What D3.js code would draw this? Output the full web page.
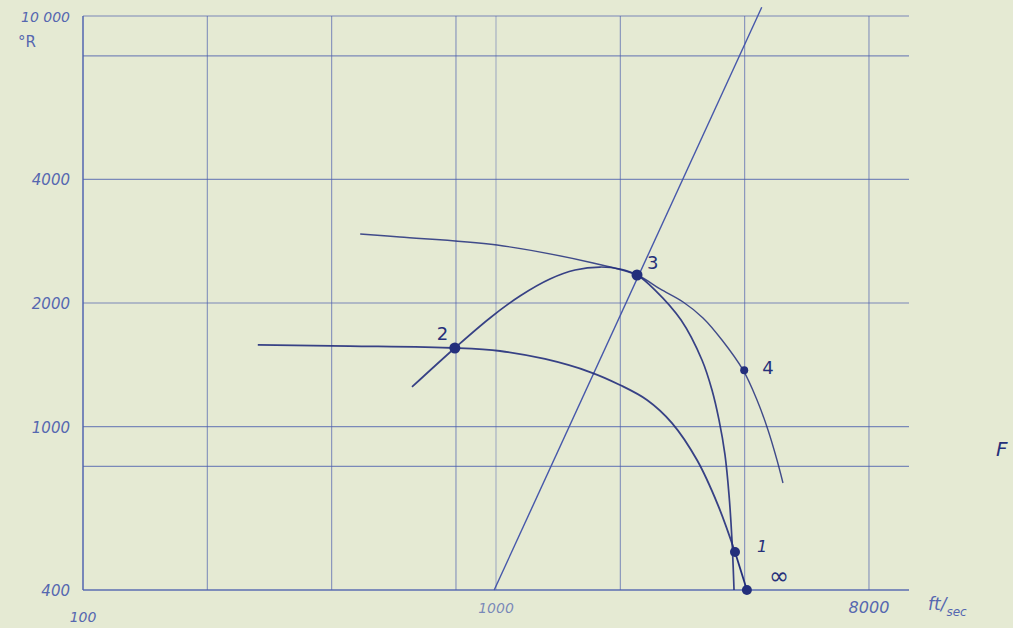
<!DOCTYPE html>
<html>
<head>
<meta charset="utf-8">
<script src="https://cdn.jsdelivr.net/npm/d3@7"></script>
<style>
    body { margin: 0; background: #e5ead3; }
    svg { display: block; }
    .tick-label { font-family: "DejaVu Sans", sans-serif; font-style: italic; fill: #5567b0; }
    .pt-label { font-family: "DejaVu Sans", sans-serif; fill: #26307a; }
</style>
</head>
<body>
<svg id="chart" width="1013" height="628"></svg>
<script>
// log-log chart, velocity (ft/sec) vs temperature (deg R)

// grid lines drawn on the paper
var xGrid = [100, 200, 400, 800, 1000, 2000, 4000, 8000];
var yGrid = [400, 800, 1000, 2000, 4000, 8000, 10000];

// tick labels
var xLabels = [100, 1000, 8000];
var yLabels = [400, 1000, 2000, 4000, 10000];

// curves [ft/sec, deg R]
var upperCurve = [[469, 2945], [585, 2896], [1006, 2768], [1718, 2503], [2195, 2340],
    [2496, 2164], [2838, 2011], [3171, 1839], [3525, 1625], [3963, 1374],
    [4285, 1161], [4556, 981], [4790, 829], [4953, 729]];

var arcCurve = [[626, 1249], [795, 1554], [967, 1839], [1143, 2080], [1351, 2288],
    [1554, 2406], [1786, 2447], [1996, 2420], [2195, 2340], [2427, 2151],
    [2806, 1818], [3153, 1453], [3334, 1228], [3467, 1038], [3585, 853],
    [3666, 682], [3727, 530], [3770, 400]];

var lowerCurve = [[265, 1581], [443, 1571], [795, 1554], [1023, 1528], [1314, 1461],
    [1689, 1358], [1996, 1263], [2321, 1161], [2668, 1020], [3067, 829],
    [3447, 644], [3790, 495]];

var endSegment = [[3790, 495], [4050, 400]];

var straightLine = [[990, 400], [4400, 10500]];

// marked states
var points = [
    { name: "2", v: 795, t: 1554, r: 5.5 },
    { name: "3", v: 2195, t: 2340, r: 5.5 },
    { name: "4", v: 3990, t: 1372, r: 4 },
    { name: "1", v: 3790, t: 495, r: 5 },
    { name: "\u221e", v: 4050, t: 400, r: 5 }
];

(function() {
    var svg = d3.select('#chart');

    var x = d3.scaleLog().domain([100, 10000]).range([83, 909]);
    var y = d3.scaleLog().domain([400, 10000]).range([590, 16]);

    var gridColor = '#4d60ae';
    var inkColor = '#232f7c';

    // paper
    svg.append('rect')
        .attr('width', 1013).attr('height', 628)
        .attr('fill', '#e5ead3');

    // horizontal grid
    svg.append('g').attr('class', 'hgrid')
        .selectAll('line').data(yGrid).enter().append('line')
        .attr('x1', x(100)).attr('x2', x(10000))
        .attr('y1', function(d) { return y(d); })
        .attr('y2', function(d) { return y(d); })
        .attr('stroke', gridColor)
        .attr('stroke-opacity', function(d) { return d === 400 ? 0.9 : 0.7; })
        .attr('stroke-width', function(d) { return d === 400 ? 1.6 : 1.2; });

    // vertical grid
    svg.append('g').attr('class', 'vgrid')
        .selectAll('line').data(xGrid).enter().append('line')
        .attr('x1', function(d) { return x(d); })
        .attr('x2', function(d) { return x(d); })
        .attr('y1', y(10000)).attr('y2', y(400))
        .attr('stroke', gridColor)
        .attr('stroke-opacity', function(d) { return d === 100 ? 0.9 : (d === 1000 ? 0.45 : 0.65); })
        .attr('stroke-width', function(d) { return d === 100 ? 1.6 : 1.1; });

    // y labels
    var yFmt = function(d) { return d === 10000 ? '10 000' : String(d); };
    svg.append('g').selectAll('text').data(yLabels).enter().append('text')
        .attr('class', 'tick-label')
        .attr('x', 70)
        .attr('y', function(d) { return y(d) + 6; })
        .attr('text-anchor', 'end')
        .attr('font-size', function(d) { return d === 10000 ? 14 : 15; })
        .text(yFmt);

    svg.append('text').attr('class', 'tick-label')
        .attr('x', 18).attr('y', 47)
        .attr('font-size', 15)
        .style('font-style', 'normal')
        .text('\u00b0R');

    // x labels
    svg.append('g').selectAll('text').data(xLabels).enter().append('text')
        .attr('class', 'tick-label')
        .attr('x', function(d) { return x(d); })
        .attr('y', function(d) { return d === 100 ? 622 : 613; })
        .attr('text-anchor', 'middle')
        .attr('font-size', function(d) { return d === 8000 ? 16 : 14; })
        .attr('fill-opacity', function(d) { return d === 1000 ? 0.75 : 1; })
        .text(String);

    var unit = svg.append('text').attr('class', 'tick-label')
        .attr('x', 928).attr('y', 610)
        .attr('font-size', 17);
    unit.append('tspan').text('ft/');
    unit.append('tspan').attr('font-size', 12).attr('dy', 6).text('sec');

    svg.append('text').attr('class', 'pt-label')
        .attr('x', 996).attr('y', 456)
        .attr('font-size', 20)
        .attr('font-style', 'italic')
        .text('F');

    // curves
    var line = d3.line()
        .x(function(d) { return x(d[0]); })
        .y(function(d) { return y(d[1]); })
        .curve(d3.curveCatmullRom.alpha(0.5));

    var straight = d3.line()
        .x(function(d) { return x(d[0]); })
        .y(function(d) { return y(d[1]); });

    svg.append('path').datum(straightLine)
        .attr('d', straight)
        .attr('fill', 'none')
        .attr('stroke', '#4657aa')
        .attr('stroke-width', 1.4);

    svg.append('path').datum(upperCurve)
        .attr('d', line)
        .attr('fill', 'none')
        .attr('stroke', inkColor)
        .attr('stroke-opacity', 0.85)
        .attr('stroke-width', 1.4);

    svg.append('path').datum(arcCurve)
        .attr('d', line)
        .attr('fill', 'none')
        .attr('stroke', inkColor)
        .attr('stroke-opacity', 0.9)
        .attr('stroke-width', 1.7);

    svg.append('path').datum(lowerCurve)
        .attr('d', line)
        .attr('fill', 'none')
        .attr('stroke', inkColor)
        .attr('stroke-opacity', 0.9)
        .attr('stroke-width', 1.8);

    svg.append('path').datum(endSegment)
        .attr('d', straight)
        .attr('fill', 'none')
        .attr('stroke', inkColor)
        .attr('stroke-width', 1.8);

    // points
    svg.append('g').selectAll('circle').data(points).enter().append('circle')
        .attr('cx', function(d) { return x(d.v); })
        .attr('cy', function(d) { return y(d.t); })
        .attr('r', function(d) { return d.r; })
        .attr('fill', inkColor);

    var labelPos = {
        '2': [-18, -8, 18],
        '3': [10, -6, 18],
        '4': [18, 4, 18],
        '1': [22, 0, 16],
        '\u221e': [22, -6, 24]
    };

    svg.append('g').selectAll('text').data(points).enter().append('text')
        .attr('class', 'pt-label')
        .attr('x', function(d) { return x(d.v) + labelPos[d.name][0]; })
        .attr('y', function(d) { return y(d.t) + labelPos[d.name][1]; })
        .attr('font-size', function(d) { return labelPos[d.name][2]; })
        .attr('font-style', function(d) { return d.name === '1' ? 'italic' : 'normal'; })
        .text(function(d) { return d.name; });
})();
</script>
</body>
</html>
